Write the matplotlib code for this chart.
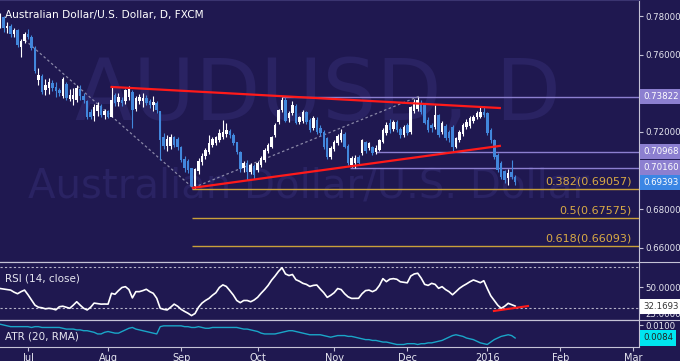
import matplotlib
matplotlib.use("Agg")
import matplotlib.pyplot as plt
from matplotlib.lines import Line2D
import numpy as np
import pandas as pd

# daily AUD/USD candles, 19 Jun 2015 -> 13 Jan 2016
opens = [
    .7753, .7795, .7738, .7748, .7705, .7725, .7640, .7670, .7705, .7690,
    .7635, .7470, .7490, .7415, .7430, .7450, .7430, .7415, .7385, .7445,
    .7371, .7370, .7365, .7420, .7385, .7360, .7300, .7285, .7310, .7335,
    .7290, .7305, .7280, .7390, .7355, .7365, .7360, .7380, .7405, .7320,
    .7360, .7360, .7375, .7360, .7340, .7350, .7305, .7170, .7125, .7130,
    .7170, .7160, .7120, .7060, .7050, .7010, .6918, .7000, .7045, .7075,
    .7095, .7135, .7145, .7160, .7175, .7190, .7205, .7185, .7145, .7095,
    .7015, .7040, .6995, .7025, .7003, .7030, .7055, .7100, .7123, .7184,
    .7252, .7314, .7365, .7273, .7299, .7335, .7250, .7255, .7300, .7262,
    .7221, .7260, .7220, .7200, .7165, .7071, .7110, .7145, .7160, .7190,
    .7125, .7030, .7040, .7070, .7090, .7145, .7115, .7120, .7095, .7107,
    .7150, .7195, .7245, .7215, .7250, .7215, .7184, .7236, .7200, .7310,
    .7320, .7350, .7340, .7262, .7235, .7226, .7288, .7200, .7230, .7200,
    .7226, .7123, .7159, .7190, .7226, .7230, .7255, .7275, .7280, .7304,
    .7295, .7210, .7159, .7081, .7040, .6995, .6960, .6990, .6967,
]
highs = [
    .7815, .7800, .7770, .7760, .7740, .7735, .7680, .7715, .7735, .7700,
    .7645, .7530, .7500, .7475, .7480, .7470, .7460, .7430, .7485, .7460,
    .7420, .7430, .7445, .7445, .7400, .7365, .7320, .7345, .7355, .7345,
    .7320, .7315, .7433, .7400, .7400, .7380, .7420, .7440, .7415, .7385,
    .7395, .7400, .7390, .7370, .7385, .7360, .7310, .7195, .7185, .7190,
    .7180, .7175, .7125, .7075, .7060, .7015, .7015, .7065, .7090, .7115,
    .7185, .7175, .7180, .7215, .7262, .7245, .7215, .7195, .7150, .7100,
    .7050, .7055, .7040, .7035, .7050, .7075, .7115, .7145, .7180, .7245,
    .7320, .7382, .7380, .7310, .7360, .7345, .7285, .7315, .7310, .7270,
    .7285, .7275, .7235, .7210, .7175, .7125, .7160, .7190, .7215, .7200,
    .7140, .7075, .7080, .7080, .7165, .7155, .7150, .7130, .7135, .7165,
    .7220, .7250, .7265, .7260, .7260, .7225, .7235, .7245, .7335, .7370,
    .7382, .7365, .7345, .7275, .7245, .7340, .7295, .7255, .7240, .7210,
    .7235, .7175, .7210, .7245, .7265, .7285, .7290, .7310, .7335, .7335,
    .7305, .7220, .7165, .7090, .7050, .7005, .7010, .7055, .6975,
]
lows = [
    .7740, .7715, .7710, .7690, .7690, .7640, .7590, .7660, .7680, .7625,
    .7505, .7445, .7395, .7390, .7395, .7410, .7380, .7385, .7375, .7365,
    .7360, .7340, .7355, .7365, .7350, .7265, .7265, .7255, .7285, .7280,
    .7265, .7270, .7275, .7335, .7335, .7335, .7345, .7365, .7220, .7310,
    .7345, .7330, .7340, .7325, .7310, .7300, .7055, .7110, .7100, .7110,
    .7120, .7105, .7045, .6995, .6990, .6906, .6910, .6985, .7030, .7060,
    .7085, .7120, .7135, .7150, .7165, .7175, .7170, .7135, .7085, .6995,
    .6995, .6950, .6985, .6955, .6995, .7020, .7045, .7090, .7115, .7175,
    .7240, .7305, .7250, .7250, .7290, .7240, .7240, .7245, .7240, .7200,
    .7210, .7190, .7180, .7110, .7060, .7060, .7100, .7135, .7150, .7115,
    .7030, .7020, .7014, .7030, .7080, .7090, .7105, .7080, .7085, .7100,
    .7145, .7185, .7195, .7205, .7200, .7170, .7175, .7185, .7190, .7300,
    .7310, .7295, .7240, .7200, .7200, .7215, .7175, .7190, .7160, .7150,
    .7097, .7115, .7150, .7180, .7215, .7220, .7245, .7265, .7270, .7280,
    .7185, .7145, .7060, .6995, .6955, .6935, .6925, .6955, .6925,
]
closes = [
    .7800, .7738, .7748, .7705, .7725, .7650, .7670, .7705, .7690, .7635,
    .7515, .7495, .7405, .7440, .7455, .7430, .7410, .7400, .7475, .7378,
    .7391, .7392, .7428, .7385, .7365, .7275, .7280, .7330, .7340, .7290,
    .7305, .7280, .7365, .7350, .7380, .7350, .7415, .7420, .7314, .7375,
    .7380, .7375, .7350, .7340, .7355, .7315, .7160, .7125, .7160, .7170,
    .7135, .7120, .7055, .7015, .7005, .6918, .7005, .7050, .7075, .7105,
    .7140, .7160, .7170, .7195, .7200, .7210, .7185, .7145, .7095, .7010,
    .7040, .6995, .7030, .6980, .7040, .7066, .7107, .7133, .7174, .7236,
    .7314, .7365, .7255, .7299, .7340, .7247, .7275, .7304, .7250, .7210,
    .7273, .7200, .7195, .7123, .7071, .7118, .7149, .7180, .7195, .7123,
    .7040, .7066, .7065, .7040, .7159, .7100, .7140, .7092, .7118, .7159,
    .7210, .7236, .7210, .7252, .7210, .7184, .7226, .7195, .7329, .7355,
    .7365, .7304, .7247, .7210, .7220, .7288, .7184, .7247, .7169, .7169,
    .7123, .7169, .7200, .7236, .7252, .7273, .7278, .7299, .7304, .7290,
    .7195, .7159, .7071, .7003, .6967, .6952, .6985, .6965, .69393,
]

rsi = [
    49, 48.5, 48, 47.5, 45.5, 44, 46, 47.5, 43, 38,
    33, 31, 30.5, 29.5, 30, 29.5, 28.5, 31.5, 32, 31,
    30, 33, 36.3, 33, 30, 28.4, 31, 35, 34.5, 34,
    34.1, 34, 44.4, 43.5, 47, 50, 50.8, 48, 40, 46,
    46, 47, 48.3, 46, 44.4, 39.6, 30, 29, 28.4, 31,
    34, 32, 29, 27, 25.2, 23, 25, 31, 35, 37.5,
    39.5, 42.5, 45, 50, 52.5, 51, 47, 42.8, 37.5, 35.4,
    37.5, 37.5, 36.3, 38, 40.6, 44.5, 48, 52, 57, 61,
    65.5, 69, 63, 61.5, 62.5, 57.5, 56, 54, 53, 51,
    52, 52.4, 48.5, 45, 40.5, 42.5, 45, 49, 48, 44,
    41, 39.5, 39.5, 39.6, 44, 47, 47.5, 46, 47.6, 52,
    58.5, 55.6, 58, 58.5, 57.9, 55.5, 55, 54.5, 61, 63,
    63.7, 59, 53, 52, 54, 53, 49.2, 50.8, 48, 46,
    43, 46, 49.2, 51.5, 53.4, 55.5, 57.2, 56, 54.6, 56.5,
    49, 42, 37.5, 33, 30, 32, 34.8, 33.5, 32.1693,
]

atr = [
    .0101, .0100, .0099, .0098, .0098, .0098, .0098, .0098, .0098, .0097,
    .0098, .0098, .0097, .0097, .0097, .0097, .0097, .0097, .0096, .0095,
    .0095, .0095, .0094, .0094, .0093, .0093, .0092, .0091, .0089, .0089,
    .0091, .0092, .0091, .0090, .0090, .0092, .0094, .0096, .0097, .0095,
    .0094, .0093, .0092, .0091, .0090, .0089, .0098, .0099, .0099, .0099,
    .0099, .0099, .0099, .0098, .0098, .0097, .0097, .0098, .0097, .0096,
    .0096, .0097, .0097, .0097, .0097, .0097, .0097, .0097, .0097, .0096,
    .0095, .0095, .0094, .0093, .0092, .0090, .0089, .0089, .0089, .0089,
    .0090, .0091, .0092, .0093, .0093, .0092, .0091, .0090, .0089, .0088,
    .0088, .0088, .0088, .0087, .0086, .0085, .0086, .0087, .0087, .0087,
    .0086, .0086, .0085, .0084, .0083, .0082, .0082, .0081, .0081, .0080,
    .0079, .0079, .0078, .0077, .0076, .0076, .0076, .0077, .0077, .0077,
    .0076, .0077, .0077, .0078, .0078, .0079, .0080, .0081, .0083, .0085,
    .0087, .0088, .0087, .0086, .0084, .0083, .0082, .0080, .0078, .0077,
    .0076, .0079, .0082, .0084, .0086, .0087, .0088, .0087, .0084,
]

# drawn studies: (bar index, price)
upper_trend = [(32, 0.7433), (143.6, 0.7324)]
lower_trend = [(55.4, 0.6911), (143.6, 0.7128)]
zigzag = [(7.1, 0.7676), (55.4, 0.6911), (120.6, 0.7386)]
rsi_trend = [(141.9, 27.4), (151.7, 32.2)]
# horizontal levels: (price, start bar)
levels = [(0.73822, 81), (0.70968, 108), (0.70160, 100.5)]
fibs = [("0.382", 0.69057), ("0.5", 0.67575), ("0.618", 0.66093)]
fib_start = 55

price_ticks = [0.66, 0.68, 0.72, 0.76, 0.78]

BG = "#1f1850"
BLUE = "#4287dc"
AXIS = "#c4c2d6"
TXT = "#e6e6f0"

n = len(closes)
dates = pd.bdate_range("2015-06-19", periods=n)
full = pd.bdate_range("2015-06-19", "2016-03-15")
x = np.arange(n)

fig = plt.figure(figsize=(6.8, 3.61), dpi=100, facecolor=BG)
W = 639 / 680
ax = fig.add_axes([0, 1 - 262 / 361, W, 262 / 361])
ax_rsi = fig.add_axes([0, 1 - 320 / 361, W, 58 / 361], sharex=ax)
ax_atr = fig.add_axes([0, 1 - 347 / 361, W, 27 / 361], sharex=ax)

for a in (ax, ax_rsi, ax_atr):
    a.set_facecolor(BG)
    a.spines["left"].set_visible(False)
    for s in ("top", "right", "bottom"):
        a.spines[s].set_color(AXIS)
        a.spines[s].set_linewidth(0.8)
    a.yaxis.tick_right()
    a.tick_params(axis="y", colors=AXIS, labelcolor=TXT, labelsize=6.2, length=3, pad=1.5)
    a.tick_params(axis="x", colors=AXIS, labelcolor=TXT, labelsize=7, length=3, pad=1)
ax.spines["top"].set_color("#3a3470")

# watermark
ax.text(0.497, 0.63, "AUDUSD, D", transform=ax.transAxes, fontsize=61,
        color="#2a2363", ha="center", va="center", zorder=0)
ax.text(0.483, 0.29, "Australian Dollar/U.S. Dollar", transform=ax.transAxes,
        fontsize=29, color="#2a2363", ha="center", va="center", zorder=0)
ax.text(5 / 639, 1 - 18 / 262, "Australian Dollar/U.S. Dollar, D, FXCM",
        transform=ax.transAxes, fontsize=7.6, color="white", ha="left",
        va="baseline", zorder=6)

# candles
o = np.array(opens); h = np.array(highs); l = np.array(lows); c = np.array(closes)
cols = np.where(c >= o, "white", BLUE)
ax.vlines(x, l, h, colors=cols, linewidth=0.8, zorder=3)
ax.bar(x, np.abs(c - o) + 0.00015, bottom=np.minimum(o, c), width=0.72,
       color=cols, linewidth=0, zorder=4)

xmax = 183.6
for lvl, start in levels:
    ax.hlines(lvl, start, xmax, colors="#8c7fd0", linewidth=1, zorder=2)
for name, lvl in fibs:
    ax.hlines(lvl, fib_start, xmax, colors="#c9a03a", linewidth=1, zorder=2)
    ax.text(632 / 639, lvl + 0.0012, f"{name}({lvl:.5f})",
            transform=ax.get_yaxis_transform(), ha="right", va="bottom",
            fontsize=8, color="#d9aa45", zorder=6)

zx, zy = zip(*zigzag)
ax.plot(zx, zy, color="#8a88a8", linewidth=0.9, linestyle=(0, (2, 2)), zorder=2)
for seg in (upper_trend, lower_trend):
    sx, sy = zip(*seg)
    ax.plot(sx, sy, color="#ff1a1a", linewidth=1.6, zorder=5)

ax.set_xlim(-0.05, xmax)
ax.set_ylim(0.65274, 0.78828)
ax.set_yticks(price_ticks)
ax.set_yticklabels([f"{v:.5f}" for v in price_ticks])


def tag(a, val, txt, face, fg):
    a.text(1.0 + 4 / 639, val, txt, transform=a.get_yaxis_transform(),
           ha="left", va="center", fontsize=6.2, color=fg, zorder=10, clip_on=False,
           bbox=dict(boxstyle="square,pad=0.35", facecolor=face, edgecolor="none"))


tag(ax, 0.73822, "0.73822", "#8c7fd0", "white")
tag(ax, 0.70968, "0.70968", "#8c7fd0", "white")
tag(ax, 0.70160, "0.70160", "#8c7fd0", "white")
tag(ax, closes[-1], f"{closes[-1]:.5f}", "#3b86e4", "white")

# RSI
for lvl in (70, 30):
    ax_rsi.axhline(lvl, color="#b4b2c8", linewidth=0.8, linestyle=(0, (2, 2)))
ax_rsi.plot(x, rsi, color="white", linewidth=1.2, zorder=3)
rx, ry = zip(*rsi_trend)
ax_rsi.plot(rx, ry, color="#ff1a1a", linewidth=1.5, zorder=4)
ax_rsi.set_ylim(18.75, 74.5)
ax_rsi.set_yticks([50, 25])
ax_rsi.set_yticklabels(["50.0000", "25.0000"])
ax_rsi.text(5 / 639, 0.72, "RSI (14, close)", transform=ax_rsi.transAxes,
            fontsize=7.5, color=TXT, va="center")
tag(ax_rsi, rsi[-1], f"{rsi[-1]:.4f}", "white", "#333333")

# ATR
ax_atr.plot(x, atr, color="#1aa6c8", linewidth=1.0)
ax_atr.set_ylim(0.00729, 0.01062)
ax_atr.set_yticks([0.0100])
ax_atr.set_yticklabels(["0.0100"])
ax_atr.text(5 / 639, 0.38, "ATR (20, RMA)", transform=ax_atr.transAxes,
            fontsize=7.5, color=TXT, va="center")
tag(ax_atr, atr[-1], f"{atr[-1]:.4f}", "#00e5f0", "#222222")

# month ticks at first bar of each month
ser = pd.Series(np.arange(len(full)), index=full)
firsts = ser.groupby([full.year, full.month]).first()
pos, labs = [], []
for (yr, mo), idx in firsts.items():
    if idx == 0:
        continue
    pos.append(idx)
    labs.append(str(yr) if mo == 1 else full[idx].strftime("%b"))
ax_atr.set_xticks(pos)
ax_atr.set_xticklabels(labs)
plt.setp(ax.get_xticklabels(), visible=False)
plt.setp(ax_rsi.get_xticklabels(), visible=False)
ax.tick_params(axis="x", length=0)
ax_rsi.tick_params(axis="x", length=0)

# panel separators across the full width
for yy in (262, 320):
    fig.add_artist(Line2D([0, 1], [1 - yy / 361] * 2, color=AXIS, linewidth=0.8))

fig.savefig("out.png", dpi=100, facecolor=BG)
